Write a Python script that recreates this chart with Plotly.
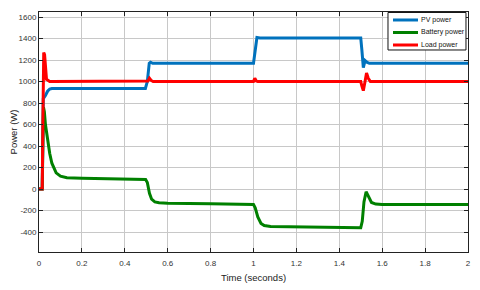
import plotly.graph_objects as go

# PV power
t_pv = [0, 0.015, 0.02, 0.025, 0.03, 0.04, 0.05, 0.06, 0.496, 0.505, 0.514, 0.52, 0.53,
        1.0, 1.006, 1.016, 1.03, 1.5, 1.505, 1.512, 1.52, 1.528, 1.54, 2.0]
pv = [0, 0, 840, 850, 870, 910, 930, 935, 935, 1000, 1170, 1180, 1170,
      1170, 1250, 1410, 1405, 1405, 1300, 1130, 1195, 1180, 1170, 1170]

# Battery power
t_bat = [0, 0.015, 0.021, 0.025, 0.03, 0.04, 0.05, 0.06, 0.07, 0.08, 0.1, 0.13, 0.2, 0.3, 0.497,
         0.505, 0.515, 0.525, 0.54, 0.56, 0.6, 0.8, 1.0, 1.008, 1.02, 1.035, 1.05, 1.08,
         1.2, 1.5, 1.507, 1.515, 1.525, 1.535, 1.55, 1.57, 1.6, 2.0]
bat = [0, 0, 760, 720, 600, 450, 330, 240, 190, 150, 120, 105, 100, 95, 88,
       60, -40, -95, -120, -128, -132, -138, -145, -175, -260, -320, -340, -348,
       -352, -360, -300, -120, -25, -60, -125, -140, -145, -145]

# Load power
t_load = [0, 0.015, 0.018, 0.022, 0.026, 0.03, 0.035, 0.04, 0.05, 0.06, 0.5, 0.508, 0.515,
          0.523, 0.532, 1.0, 1.006, 1.013, 1.02, 1.5, 1.505, 1.512, 1.52, 1.527, 1.535, 1.545, 2.0]
load = [0, 0, 600, 1270, 1250, 1100, 1020, 1015, 1000, 1000, 1000, 1005, 1030,
        1010, 1000, 1000, 1030, 1005, 1000, 1000, 960, 915, 1000, 1080, 1030, 1000, 1000]

series_names = ["PV power", "Battery power", "Load power"]
series_colors = ["#0072BD", "#008000", "#FF0000"]

x_ticks = [0, 0.2, 0.4, 0.6, 0.8, 1, 1.2, 1.4, 1.6, 1.8, 2]
x_labels = ["0", "0.2", "0.4", "0.6", "0.8", "1", "1.2", "1.4", "1.6", "1.8", "2"]
y_ticks = [-400, -200, 0, 200, 400, 600, 800, 1000, 1200, 1400, 1600]
y_labels = ["-400", "-200", "0", "200", "400", "600", "800", "1000", "1200", "1400", "1600"]

FAM = "Liberation Sans, Arial, sans-serif"

fig = go.Figure()
for tx, ty, nm, col in [(t_pv, pv, series_names[0], series_colors[0]),
                        (t_bat, bat, series_names[1], series_colors[1]),
                        (t_load, load, series_names[2], series_colors[2])]:
    fig.add_trace(go.Scatter(x=tx, y=ty, mode="lines", name=nm, showlegend=False,
                             line=dict(color=col, width=3)))

# compact MATLAB-style legend box
shapes = [dict(type="rect", xref="paper", yref="paper", x0=0.8135, x1=0.9953, y0=0.8417, y1=0.998,
               line=dict(color="#111", width=1), fillcolor="white", layer="above")]
annotations = []
leg_y = [0.9667, 0.9146, 0.8625]
for i, (nm, col) in enumerate(zip(series_names, series_colors)):
    shapes.append(dict(type="line", xref="paper", yref="paper", x0=0.8252, x1=0.8834,
                       y0=leg_y[i], y1=leg_y[i], line=dict(color=col, width=3), layer="above"))
    annotations.append(dict(xref="paper", yref="paper", x=0.8858, y=leg_y[i], text=nm,
                            showarrow=False, xanchor="left", yanchor="middle",
                            font=dict(family=FAM, size=7, color="#111")))

fig.update_layout(
    width=472, height=282,
    margin=dict(l=31, r=12, t=4, b=38),
    paper_bgcolor="white", plot_bgcolor="white",
    font=dict(family=FAM, size=8, color="#333333"),
    showlegend=False,
    shapes=shapes, annotations=annotations,
)
fig.update_xaxes(range=[0, 2], tickvals=x_ticks, ticktext=x_labels, automargin=False,
                 showgrid=True, gridcolor="#c8c8c8", gridwidth=1,
                 showline=True, linecolor="#222", linewidth=1, mirror="ticks",
                 ticks="inside", ticklen=4, tickcolor="#222", zeroline=False,
                 ticklabelstandoff=3,
                 title=dict(text="Time (seconds)", font=dict(family=FAM, size=9.5, color="#222"), standoff=7))
fig.update_yaxes(range=[-586, 1647], tickvals=y_ticks, ticktext=y_labels, automargin=False,
                 showgrid=True, gridcolor="#c8c8c8", gridwidth=1,
                 showline=True, linecolor="#222", linewidth=1, mirror="ticks",
                 ticks="inside", ticklen=4, tickcolor="#222", zeroline=False,
                 title=dict(text="Power (W)", font=dict(family=FAM, size=9.5, color="#222"), standoff=2))

fig.write_html("out.html")
